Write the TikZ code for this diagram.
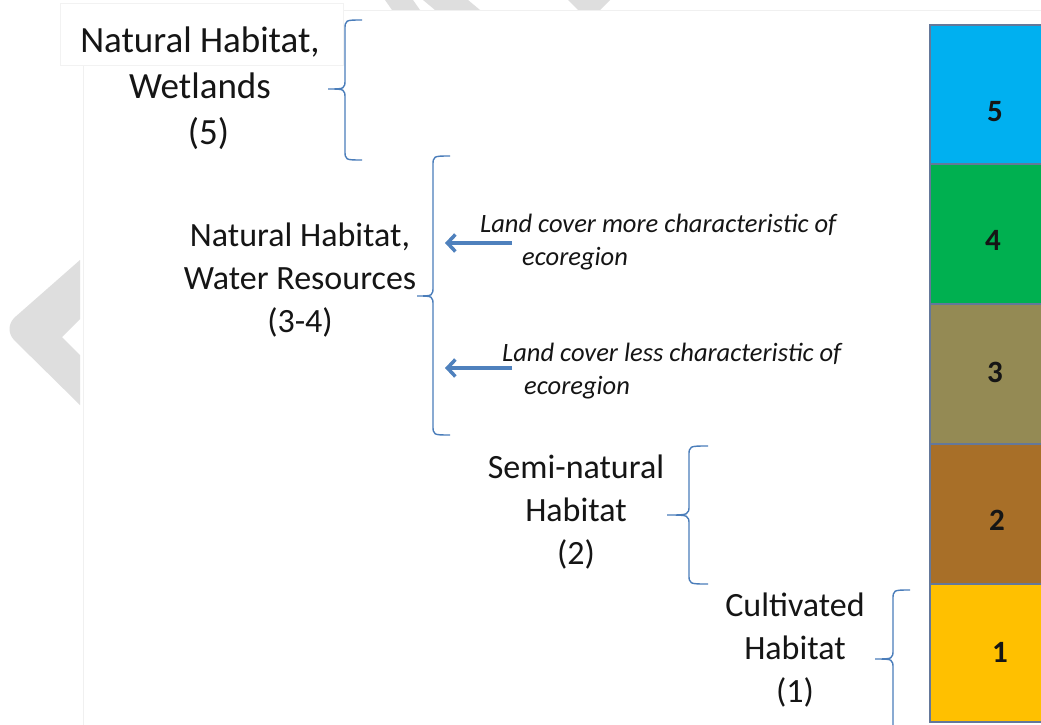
\documentclass[tikz,border=0pt]{standalone}
\usepackage{fontspec}
\setmainfont{Carlito}
\usetikzlibrary{arrows.meta}
\definecolor{bracecol}{HTML}{4A7DBA}
\definecolor{arrowcol}{HTML}{4F81BD}
\definecolor{cfive}{HTML}{00B0F0}
\definecolor{cfour}{HTML}{00B050}
\definecolor{cthree}{HTML}{948A54}
\definecolor{ctwo}{HTML}{A86F28}
\definecolor{cone}{HTML}{FFC000}
\definecolor{wmark}{HTML}{DEDEDE}
\definecolor{txt}{HTML}{151515}
\definecolor{barline}{HTML}{64789A}
\newcommand\habbrace[6]{%
  \draw[bracestyle] (#1,#4) .. controls (#2,#4) .. (#2,#4+10) -- (#2,#5-10)
    .. controls (#2,#5) .. (#3,#5) .. controls (#2,#5) .. (#2,#5+10)
    -- (#2,#6-10) .. controls (#2,#6) .. (#1,#6);}
\tikzset{
  bracestyle/.style={draw=bracecol, line width=1.4pt},
  bigtext/.style={text=txt, align=center, inner sep=0pt, font=\fontsize{34}{43}\selectfont},
  toptext/.style={text=txt, align=center, inner sep=0pt, font=\fontsize{37}{46}\selectfont},
  ittext/.style={text=txt, align=left, inner sep=0pt, anchor=west, font=\fontsize{26.5}{33}\selectfont\itshape},
  pointer/.style={draw=arrowcol, line width=3.5pt, -{Straight Barb[length=8pt,width=17pt]}},
  barbox/.style={draw=barline, line width=1.2pt},
  num/.style={text=txt, inner sep=0pt, font=\fontsize{31}{34}\selectfont\bfseries}
}
\begin{document}
\begin{tikzpicture}[x=1pt,y=-1pt]
\useasboundingbox (0,0) rectangle (1041,725);
\clip (0,0) rectangle (1041,725);
\fill[white] (0,0) rectangle (1041,725);
% watermark fragments
\fill[wmark] (80,260) -- (14,318) .. controls (8,325) and (8,333) .. (14,340) -- (80,405) -- (80,355) -- (62,337) -- (80,319) -- cycle;
\fill[wmark] (385,0) -- (413,0) -- (420,10) -- (392,10) -- cycle;
\fill[wmark] (423,0) -- (468,0) -- (480,10) -- (435,10) -- cycle;
\fill[wmark] (568,0) -- (610,0) -- (600,10) -- (578,10) -- cycle;
% page and label box
\filldraw[fill=white, draw=black!6, line width=0.8pt] (83,10) rectangle (1045,730);
\filldraw[fill=white, draw=black!5, line width=0.8pt] (60,3) rectangle (343,65);
% colour bar
\draw[barbox, fill=cfive]  (930,25)  rectangle (1045,164);
\draw[barbox, fill=cfour]  (930,164) rectangle (1045,304);
\draw[barbox, fill=cthree] (930,304) rectangle (1045,444);
\draw[barbox, fill=ctwo]   (930,444) rectangle (1045,584);
\draw[barbox, fill=cone]   (930,584) rectangle (1045,722);
\node[num] (n5) at (995,112) {5};
\node[num] (n4) at (993,240) {4};
\node[num] (n3) at (995,372) {3};
\node[num] (n2) at (997,520) {2};
\node[num] (n1) at (1000,652) {1};
% labels
\node[toptext] (wet) at (200,88) {Natural Habitat,\\ Wetlands\hspace*{16pt}\\ \hspace*{17pt}(5)};
\node[bigtext] (wat) at (300,280) {Natural Habitat,\\ Water Resources\\ (3-4)};
\node[bigtext] (semi) at (576,512) {Semi-natural\\ Habitat\\ (2)};
\node[bigtext] (cult) at (795,650) {Cultivated\\ Habitat\\ (1)};
\node[ittext] (more) at (480,242) {Land cover more characteristic of\\ \hspace*{42pt}ecoregion};
\node[ittext] (less) at (502,371) {Land cover less characteristic of\\ \hspace*{22pt}ecoregion};
% braces
\habbrace{362}{345}{328}{20}{89}{160}
\habbrace{450}{433}{417}{156}{296}{435}
\habbrace{708}{689}{667}{446}{515}{584}
\habbrace{910}{893}{875}{590}{659}{780}
% arrows
\coordinate (a1s) at (512,243);
\coordinate (a1e) at (445,243);
\coordinate (a2s) at (512,368);
\coordinate (a2e) at (445,368);
\draw[pointer] (a1s) -- (a1e);
\draw[pointer] (a2s) -- (a2e);
\end{tikzpicture}
\end{document}
